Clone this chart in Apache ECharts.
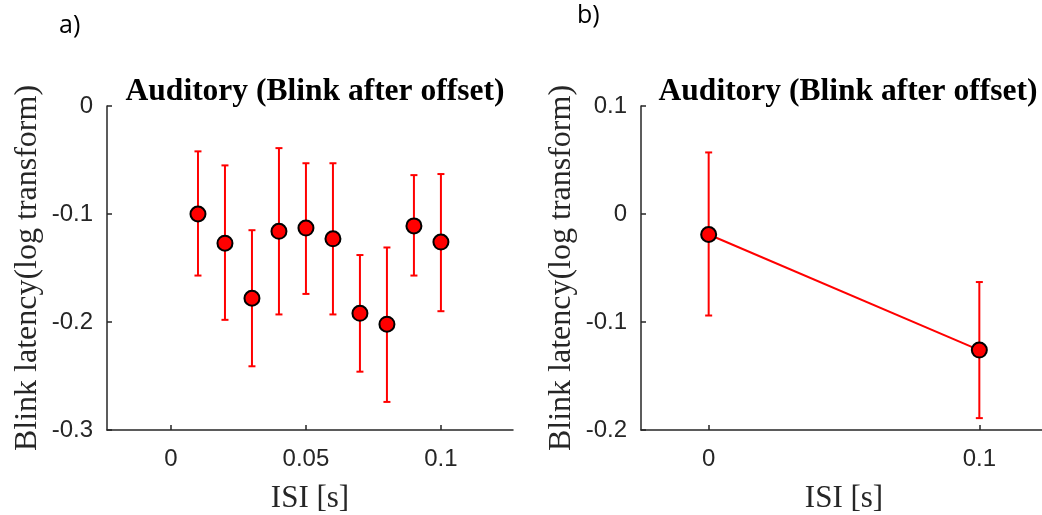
<!DOCTYPE html>
<html>
<head>
<meta charset="utf-8">
<script src="https://cdn.jsdelivr.net/npm/echarts@6/dist/echarts.min.js"></script>
<style>html,body{margin:0;padding:0;background:#fff}#c{width:1042px;height:515px}</style>
</head>
<body>
<div id="c"></div>
<script>
// Panel a data
var isiA   = [0.01, 0.02, 0.03, 0.04, 0.05, 0.06, 0.07, 0.08, 0.09, 0.10];
var meanA  = [-0.100, -0.127, -0.178, -0.116, -0.113, -0.123, -0.192, -0.202, -0.111, -0.126];
var upperA = [-0.042, -0.055, -0.115, -0.039, -0.053, -0.053, -0.138, -0.131, -0.064, -0.063];
var lowerA = [-0.157, -0.198, -0.241, -0.193, -0.174, -0.193, -0.246, -0.274, -0.157, -0.190];
// Panel b data
var isiB   = [0, 0.1];
var meanB  = [-0.019, -0.126];
var upperB = [0.057, -0.063];
var lowerB = [-0.094, -0.189];
// Tick labels
var xTicksA = [0, 0.05, 0.1];
var xTicksB = [0, 0.1];
var titleText = 'Auditory (Blink after offset)';
var yName = 'Blink latency(log transform)';
var xName = 'ISI [s]';

var AX = '#262626';
function fmt(v){ if (Math.abs(v) < 1e-9) return '0'; return String(+v.toFixed(3)); }

function errData(xs, lo, hi){ return xs.map(function(x,i){ return [x, lo[i], hi[i]]; }); }
function errRender(params, api){
  var x = api.value(0);
  var p1 = api.coord([x, api.value(1)]);
  var p2 = api.coord([x, api.value(2)]);
  var w = 3.5;
  var st = {stroke: '#ff0000', lineWidth: 2};
  return {type:'group', children:[
    {type:'line', shape:{x1:p1[0],y1:p1[1],x2:p2[0],y2:p2[1]}, style:st},
    {type:'line', shape:{x1:p1[0]-w,y1:p1[1],x2:p1[0]+w,y2:p1[1]}, style:st},
    {type:'line', shape:{x1:p2[0]-w,y1:p2[1],x2:p2[0]+w,y2:p2[1]}, style:st}
  ]};
}

function xAxis(idx, min, max, ticks){
  return {
    type:'value', gridIndex: idx, min:min, max:max,
    name: xName, nameLocation:'middle', nameGap: 53,
    nameTextStyle:{fontFamily:'Liberation Serif', fontSize:31, color:AX},
    axisLine:{show:true, onZero:false, lineStyle:{color:AX, width:1.5}},
    axisTick:{show:true, inside:true, length:5, customValues: ticks, lineStyle:{color:AX, width:1.5}},
    axisLabel:{customValues: ticks, formatter: fmt, margin:17, fontFamily:'Liberation Sans', fontSize:24, color:AX},
    splitLine:{show:false}
  };
}
function yAxis(idx, min, max){
  return {
    type:'value', gridIndex: idx, min:min, max:max, interval:0.1,
    name: yName, nameLocation:'middle', nameGap: 63,
    nameTextStyle:{fontFamily:'Liberation Serif', fontSize:32, color:AX},
    axisLine:{show:true, onZero:false, lineStyle:{color:AX, width:1.5}},
    axisTick:{show:true, inside:true, length:5, lineStyle:{color:AX, width:1.5}},
    axisLabel:{formatter: fmt, margin:14, fontFamily:'Liberation Sans', fontSize:24, color:AX},
    splitLine:{show:false}
  };
}

var chart = echarts.init(document.getElementById('c'), null, {renderer:'canvas'});
chart.setOption({
  animation:false,
  backgroundColor:'#fff',
  title:[
    {text:titleText, left:310, top:71, textAlign:'center',
     textStyle:{fontFamily:'Liberation Serif', fontWeight:'bold', fontSize:31.5, color:'#000'}},
    {text:titleText, left:843, top:71, textAlign:'center',
     textStyle:{fontFamily:'Liberation Serif', fontWeight:'bold', fontSize:31.5, color:'#000'}}
  ],
  graphic:[
    {type:'text', left:59, top:13, style:{text:'a)', font:'25px "Open Sans"', fill:'#000'}},
    {type:'text', left:577, top:3, style:{text:'b)', font:'25px "Open Sans"', fill:'#000'}}
  ],
  grid:[
    {left:107, top:106, width:406, height:324, outerBoundsMode:'none', containLabel:false},
    {left:641, top:106, width:406, height:324, outerBoundsMode:'none', containLabel:false}
  ],
  xAxis:[ xAxis(0, -0.0237, 0.1267, xTicksA), xAxis(1, -0.025, 0.125, xTicksB) ],
  yAxis:[ yAxis(0, -0.3, 0), yAxis(1, -0.2, 0.1) ],
  series:[
    {type:'custom', xAxisIndex:0, yAxisIndex:0, renderItem: errRender, data: errData(isiA, lowerA, upperA), z:2},
    {type:'scatter', xAxisIndex:0, yAxisIndex:0, symbol:'circle', symbolSize:15,
     itemStyle:{color:'#ff0000', opacity:1, borderColor:'#000', borderWidth:2},
     data: isiA.map(function(x,i){return [x, meanA[i]];}), z:3},
    {type:'custom', xAxisIndex:1, yAxisIndex:1, renderItem: errRender, data: errData(isiB, lowerB, upperB), z:2},
    {type:'line', xAxisIndex:1, yAxisIndex:1, symbol:'circle', symbolSize:15, showSymbol:true,
     lineStyle:{color:'#ff0000', width:2},
     itemStyle:{color:'#ff0000', opacity:1, borderColor:'#000', borderWidth:2},
     data: isiB.map(function(x,i){return [x, meanB[i]];}), z:3}
  ]
});
</script>
</body>
</html>
